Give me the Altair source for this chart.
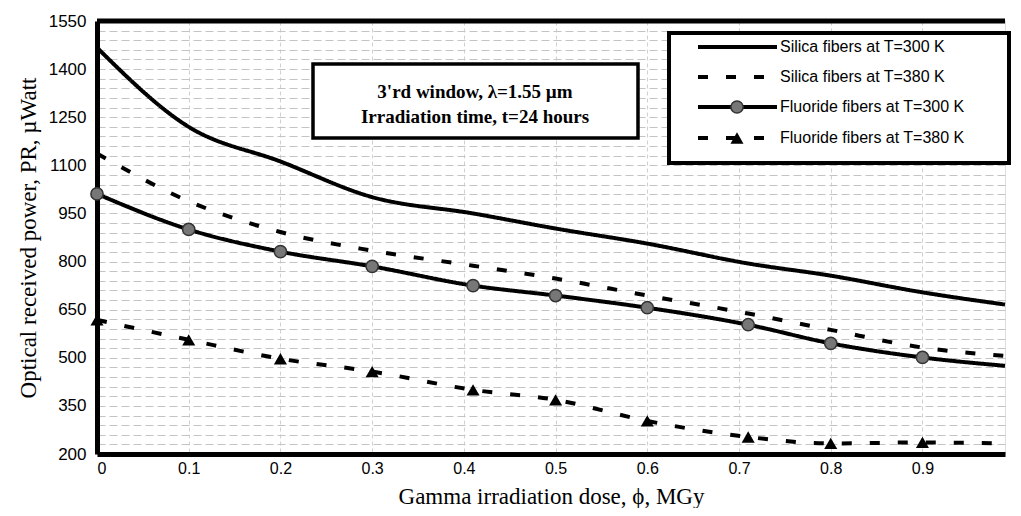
import altair as alt
import pandas as pd

# ---- data ----
dose = [0, 0.1, 0.2, 0.3, 0.41, 0.5, 0.6, 0.71, 0.8, 0.9, 0.99]
silica_300 = [1467, 1220, 1112, 1001, 950, 903, 856, 794, 756, 704, 666]
silica_380 = [1137, 988, 892, 834, 787, 747, 694, 638, 587, 532, 506]
fluoride_300 = [1011, 900, 831, 785, 725, 694, 656, 603, 545, 501, 475]
fluoride_380 = [618, 556, 497, 457, 400, 369, 303, 253, 233, 236, 233]
n_markers = 10  # markers drawn at the first ten doses

series_names = [
    "Silica fibers at T=300 K",
    "Silica fibers at T=380 K",
    "Fluoride fibers at T=300 K",
    "Fluoride fibers at T=380 K",
]
series_values = [silica_300, silica_380, fluoride_300, fluoride_380]
x_ticks = [0, 0.1, 0.2, 0.3, 0.4, 0.5, 0.6, 0.7, 0.8, 0.9]
y_grid = list(range(200, 1551, 30))
note_lines = ["3'rd window, λ=1.55 µm", "Irradiation time, t=24 hours"]

rows = []
for name, vals in zip(series_names, series_values):
    for i, (d, v) in enumerate(zip(dose, vals)):
        rows.append({"series": name, "dose": d, "power": v, "marker": i < n_markers})
df = pd.DataFrame(rows)

SOLID = [1, 0]
DASH = [10, 18]
dashes = [SOLID, DASH, SOLID, DASH]

x_enc = alt.X(
    "dose:Q",
    scale=alt.Scale(domain=[0, 0.99], nice=False, zero=False),
    axis=alt.Axis(
        values=x_ticks, format="~g", title="Gamma irradiation dose, ϕ, MGy",
        grid=True, gridColor="#d0d0d0", gridDash=[4, 3], gridWidth=1,
        domainColor="black", domainWidth=5, ticks=False,
        labelFont="Liberation Sans", labelFontSize=16, labelColor="black", labelPadding=6,
        titleFont="Liberation Serif", titleFontSize=23, titleFontWeight="normal",
        titleColor="black", titlePadding=9,
    ),
)
y_enc = alt.Y(
    "power:Q",
    scale=alt.Scale(domain=[200, 1550], nice=False, zero=False),
    axis=alt.Axis(
        values=y_grid, format="d",
        labelExpr="datum.value % 150 == 50 ? datum.label : ''",
        title="Optical received power, PR, µWatt",
        grid=True, gridColor="#c4c4c4", gridDash=[8, 4], gridWidth=1.2,
        domainColor="black", domainWidth=5, ticks=False,
        labelFont="Liberation Sans", labelFontSize=17, labelColor="black", labelPadding=11,
        titleFont="Liberation Serif", titleFontSize=23, titleFontWeight="normal",
        titleColor="black", titlePadding=8,
    ),
)
dash_enc = alt.StrokeDash(
    "series:N",
    scale=alt.Scale(domain=series_names, range=dashes),
    legend=None,
)

base = alt.Chart(df)
lines = base.mark_line(interpolate="monotone", strokeWidth=4, color="black").encode(
    x=x_enc, y=y_enc, strokeDash=dash_enc, detail="series:N"
)
circles = base.mark_point(shape="circle", filled=True, size=150, color="#777777",
                          stroke="#333333", strokeWidth=1.5, opacity=1).encode(
    x=x_enc, y=y_enc
).transform_filter(
    (alt.datum.series == series_names[2]) & alt.datum.marker
)
triangles = base.mark_point(shape="triangle-up", filled=True, size=170, color="black",
                            opacity=1).encode(
    x=x_enc, y=y_enc
).transform_filter(
    (alt.datum.series == series_names[3]) & alt.datum.marker
)

one = pd.DataFrame({"k": [0]})
layers = [lines, circles, triangles]

# top border of the frame
layers.append(alt.Chart(one).mark_rule(color="black", strokeWidth=5).encode(
    x=alt.value(0), x2=alt.value({"expr": "width"}), y=alt.value(0)))

# annotation box
layers.append(alt.Chart(one).mark_rect(fill="white", stroke="black", strokeWidth=3.5).encode(
    x=alt.value(216), x2=alt.value(541), y=alt.value(43), y2=alt.value(117)))
for line, ypix in zip(note_lines, [71, 96]):
    layers.append(alt.Chart(one).mark_text(
        font="Liberation Serif", fontSize=19, fontWeight="bold", color="black",
        align="center", baseline="middle", text=line
    ).encode(x=alt.value(378), y=alt.value(ypix)))

# legend
layers.append(alt.Chart(one).mark_rect(fill="white", stroke="black", strokeWidth=4).encode(
    x=alt.value(572), x2=alt.value(912), y=alt.value(12), y2=alt.value(142)))
leg_rows = [26, 56, 86, 117]
for i, (name, ypix) in enumerate(zip(series_names, leg_rows)):
    layers.append(alt.Chart(one).mark_rule(strokeWidth=4, color="black",
                                           strokeDash=dashes[i]).encode(
        x=alt.value(601), x2=alt.value(680), y=alt.value(ypix)))
    if i == 2:
        layers.append(alt.Chart(one).mark_point(
            shape="circle", filled=True, size=150, color="#777777", stroke="#333333",
            strokeWidth=1.5, opacity=1).encode(x=alt.value(640), y=alt.value(ypix)))
    if i == 3:
        layers.append(alt.Chart(one).mark_point(
            shape="triangle-up", filled=True, size=170, color="black", opacity=1
        ).encode(x=alt.value(640), y=alt.value(ypix)))
    layers.append(alt.Chart(one).mark_text(
        font="Liberation Sans", fontSize=16, color="black", align="left",
        baseline="middle", text=name
    ).encode(x=alt.value(683), y=alt.value(ypix)))

chart = alt.layer(*layers).properties(
    width=1005, height=500,
    autosize=alt.AutoSizeParams(type="fit", contains="padding"),
    padding={"left": 9, "top": 4, "right": 0, "bottom": 0},
).configure_view(stroke=None).configure(background="white")

chart.save("out.html", embed_options={"renderer": "svg", "actions": False})
